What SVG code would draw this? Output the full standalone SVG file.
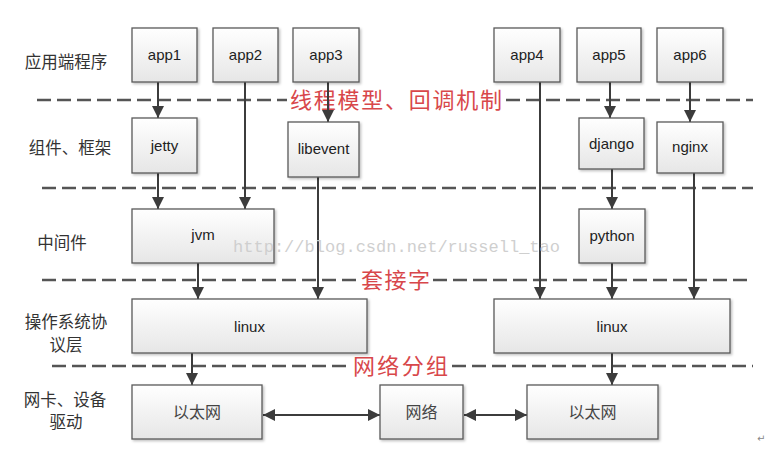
<svg xmlns="http://www.w3.org/2000/svg" width="773" height="461" viewBox="0 0 773 461">
<defs>
<linearGradient id="g" x1="0" y1="0" x2="0" y2="1">
<stop offset="0" stop-color="#ffffff"/>
<stop offset="1" stop-color="#e6e6e6"/>
</linearGradient>
<filter id="sh" x="-10%" y="-10%" width="130%" height="130%">
<feDropShadow dx="1.5" dy="1.5" stdDeviation="1" flood-color="#000" flood-opacity="0.25"/>
</filter>
<marker id="ah" markerUnits="userSpaceOnUse" markerWidth="12" markerHeight="14" viewBox="0 0 12 14" refX="12" refY="7" orient="auto-start-reverse">
<path d="M0,1 L12,7 L0,13 Z" fill="#3c3c3c"/>
</marker>
</defs>
<style>
.box{fill:url(#g);stroke:#5a5a5a;stroke-width:1.3;filter:url(#sh)}
.t{font-family:"Liberation Sans","Noto Sans CJK SC",sans-serif;font-size:15px;fill:#222;text-anchor:middle}
.tc{font-family:"Noto Sans CJK SC",sans-serif;font-size:16px;fill:#444;text-anchor:middle}
.lab{font-family:"Noto Sans CJK SC",sans-serif;font-size:16.5px;fill:#333;text-anchor:middle}
.red{font-family:"Noto Sans CJK SC",sans-serif;font-size:22px;fill:#d8474a}
.dash{stroke:#555;stroke-width:2.5;stroke-dasharray:14 6;fill:none}
.c{stroke:#3c3c3c;stroke-width:2;fill:none;marker-end:url(#ah)}
.cb{stroke:#3c3c3c;stroke-width:2;fill:none;marker-end:url(#ah);marker-start:url(#ah)}
.wm{font-family:"Liberation Mono",monospace;font-size:17px;fill:#cfcfcf}
</style>
<rect width="773" height="461" fill="#ffffff"/>

<g id="layer-labels">
<text class="lab" x="66" y="68">应用端程序</text>
<text class="lab" x="70" y="154">组件、框架</text>
<text class="lab" x="62" y="249">中间件</text>
<text class="lab" x="66" y="328">操作系统协</text>
<text class="lab" x="66" y="351">议层</text>
<text class="lab" x="65" y="406">网卡、设备</text>
<text class="lab" x="66" y="428">驱动</text>
</g>

<g id="separators">
<path class="dash" d="M37,100 H287 M506,100 H753"/>
<path class="dash" d="M42,188 H753"/>
<path class="dash" d="M42,280 H358 M433,280 H750"/>
<path class="dash" d="M52,366 H350 M452,366 H753"/>
<text class="red" x="290" y="108" textLength="212">线程模型、回调机制</text>
<text class="red" x="361" y="288" textLength="69">套接字</text>
<text class="red" x="353" y="374" textLength="95">网络分组</text>
</g>

<g id="connectors">
<path class="c" d="M158,82 V118"/>
<path class="c" d="M158,173 V209"/>
<path class="c" d="M245,82 V209"/>
<path class="c" d="M328,82 V122"/>
<path class="c" d="M318,177 V299"/>
<path class="c" d="M198,263 V299"/>
<path class="c" d="M540,82 V299"/>
<path class="c" d="M610,82 V118"/>
<path class="c" d="M612,169 V209"/>
<path class="c" d="M612,263 V299"/>
<path class="c" d="M690,82 V122"/>
<path class="c" d="M694,173 V299"/>
<path class="c" d="M192,353 V385"/>
<path class="c" d="M612,353 V385"/>
<path class="cb" d="M263,415 H380"/>
<path class="cb" d="M464,415 H527"/>
</g>

<g id="app1"><rect class="box" x="132" y="28" width="65" height="54"/><text class="t" x="164.5" y="60">app1</text></g>
<g id="app2"><rect class="box" x="213" y="28" width="65" height="54"/><text class="t" x="245.5" y="60">app2</text></g>
<g id="app3"><rect class="box" x="293" y="28" width="66" height="54"/><text class="t" x="326" y="60">app3</text></g>
<g id="app4"><rect class="box" x="494" y="28" width="66" height="54"/><text class="t" x="527" y="60">app4</text></g>
<g id="app5"><rect class="box" x="577" y="28" width="64" height="54"/><text class="t" x="609" y="60">app5</text></g>
<g id="app6"><rect class="box" x="657" y="28" width="66" height="54"/><text class="t" x="690" y="60">app6</text></g>

<g id="jetty"><rect class="box" x="132" y="118" width="65" height="55"/><text class="t" x="164.5" y="151">jetty</text></g>
<g id="libevent"><rect class="box" x="288" y="122" width="71" height="55"/><text class="t" x="323.5" y="154">libevent</text></g>
<g id="django"><rect class="box" x="579" y="118" width="65" height="51"/><text class="t" x="611.5" y="149">django</text></g>
<g id="nginx"><rect class="box" x="657" y="122" width="66" height="51"/><text class="t" x="690" y="152">nginx</text></g>

<g id="jvm"><rect class="box" x="132" y="209" width="142" height="54"/><text class="t" x="203" y="240">jvm</text></g>
<g id="python"><rect class="box" x="579" y="209" width="66" height="54"/><text class="t" x="612" y="241">python</text></g>

<g id="linux1"><rect class="box" x="132" y="299" width="235" height="54"/><text class="t" x="249.5" y="332">linux</text></g>
<g id="linux2"><rect class="box" x="494" y="299" width="236" height="54"/><text class="t" x="612" y="332">linux</text></g>

<g id="ethernet1"><rect class="box" x="132" y="385" width="130" height="54"/><text class="tc" x="197" y="418">以太网</text></g>
<g id="network"><rect class="box" x="380" y="385" width="83" height="54"/><text class="tc" x="421.5" y="418">网络</text></g>
<g id="ethernet2"><rect class="box" x="527" y="385" width="131" height="54"/><text class="tc" x="592.5" y="418">以太网</text></g>

<text class="wm" x="233" y="252" textLength="327">http://blog.csdn.net/russell_tao</text>
<text x="757" y="442" font-family="DejaVu Sans,sans-serif" font-size="10" fill="#888">↵</text>
</svg>
